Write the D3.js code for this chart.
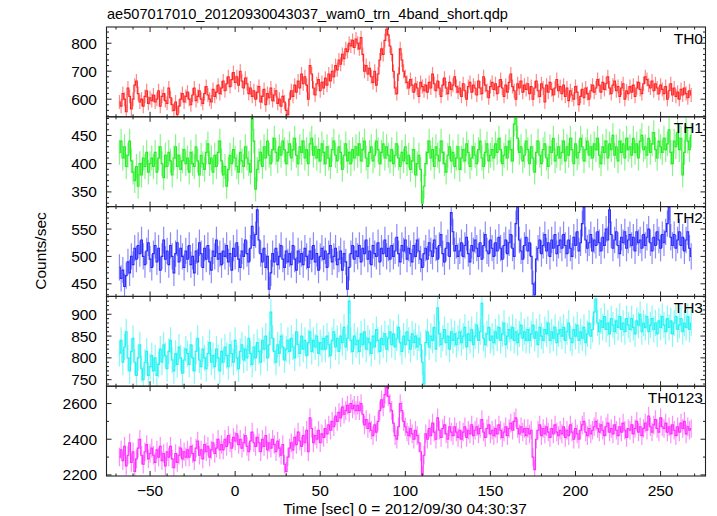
<!DOCTYPE html>
<html><head><meta charset="utf-8">
<script src="https://cdn.jsdelivr.net/npm/d3@7"></script>
<style>
body{margin:0;background:#fff}
svg{display:block}
text{font-family:"Liberation Sans",Arial,Helvetica,sans-serif;fill:#000}
</style>
</head><body>
<svg id="chart" width="717" height="516"></svg>
<script>
const title = "ae507017010_20120930043037_wam0_trn_4band_short.qdp";
const xLabel = "Time [sec] 0 = 2012/09/30 04:30:37";
const yLabel = "Counts/sec";
const bandNames = ["TH0", "TH1", "TH2", "TH3", "TH0123"];
const bandColors = ["#ff2626", "#22ee22", "#2b2bff", "#22f2f2", "#ff2eff"];
const binStart = -68, binWidth = 1;

const th0 = [
590,575,620,600,555,640,610,565,600,650,665,620,590,600,575,610,630,585,605,595,
615,590,600,630,575,610,620,595,585,640,605,580,560,590,545,575,600,620,590,610,
625,600,580,615,640,595,610,630,600,585,620,645,615,600,590,635,610,625,650,620,
640,665,630,655,680,645,670,695,660,680,650,700,665,640,675,655,620,640,610,630,
600,625,645,590,610,635,580,620,605,640,595,615,630,585,600,575,610,590,560,545,
600,630,610,650,625,665,640,690,655,680,650,600,720,690,640,615,655,670,630,660,
640,675,650,690,665,700,680,720,705,740,725,760,745,780,770,800,790,810,785,815,
800,780,820,760,700,720,690,710,680,660,700,650,690,740,780,760,810,850,830,790,
760,700,640,620,690,780,740,700,680,660,640,670,650,625,655,640,610,660,645,630,
650,625,660,640,690,655,630,665,640,610,650,675,640,620,660,635,650,680,645,625,
640,610,655,630,600,645,660,625,650,640,615,665,640,620,680,650,630,605,645,660,
635,655,620,645,670,640,610,650,625,660,690,645,630,600,655,640,665,625,650,635,
655,620,645,600,640,665,630,610,655,640,590,650,625,660,635,615,640,670,630,645,
620,650,610,640,595,630,615,600,645,625,580,610,635,605,640,620,600,630,650,625,
640,670,650,625,660,635,655,680,640,620,650,665,630,645,610,640,655,600,630,620,
645,625,650,610,640,660,635,620,655,680,670,650,640,665,630,655,640,620,650,635,
620,645,600,630,655,615,640,610,625,600,635,615,640,620,605,630,615];

const th1 = [
420,440,410,430,395,415,440,405,385,370,395,360,400,380,410,395,420,385,400,410,
395,420,385,410,430,400,375,415,395,420,405,380,410,430,395,415,390,405,425,400,
410,385,420,400,395,430,405,380,415,400,390,420,435,400,410,385,415,395,420,440,
405,380,395,360,390,415,400,425,410,395,385,420,405,395,430,410,400,385,480,440,
355,390,405,420,395,430,410,440,415,400,425,445,420,405,430,415,440,425,400,420,
435,410,425,445,415,400,430,420,440,410,425,400,435,445,415,430,410,425,405,435,
420,400,430,410,395,425,440,415,405,430,420,390,415,435,405,420,400,425,410,430,
415,435,405,425,440,410,395,420,430,405,415,440,425,400,420,435,410,430,415,405,
425,400,415,435,410,395,420,405,430,400,415,390,405,425,380,400,415,390,330,360,
400,420,440,410,425,395,430,415,405,440,420,400,385,415,430,405,420,395,410,430,
390,410,425,405,435,420,395,410,430,415,400,425,440,410,395,420,435,405,415,425,
410,435,420,445,425,400,415,430,410,440,425,405,470,480,445,420,430,405,415,440,
425,400,430,410,385,420,440,415,400,425,435,410,395,430,420,445,405,415,430,410,
420,440,405,430,415,445,425,400,435,410,420,445,430,405,425,440,415,430,410,435,
425,445,415,400,430,420,440,410,435,425,450,415,430,405,440,420,435,410,445,425,
430,415,445,420,435,410,440,450,425,430,415,445,420,435,455,425,410,440,430,420,
445,425,435,460,420,400,440,430,455,425,445,380,420,465,440,425,450];

const th2 = [
480,460,475,445,465,490,470,500,485,515,495,520,505,530,500,485,510,525,495,480,
505,520,490,515,475,500,530,495,510,485,520,500,470,505,525,490,515,500,480,510,
495,520,485,500,470,510,490,525,505,480,515,495,520,490,475,510,500,530,495,505,
485,510,500,520,490,505,475,515,500,525,495,480,510,500,530,505,490,515,555,520,
540,585,530,505,490,515,480,500,440,470,505,490,515,485,500,520,495,480,510,490,
505,485,520,495,475,510,490,505,485,515,500,480,510,495,520,490,505,475,500,515,
495,510,480,505,520,490,500,515,485,495,510,475,505,490,440,480,505,520,495,510,
500,520,490,515,505,530,495,510,485,520,505,500,525,490,515,505,530,500,515,495,
520,500,510,535,505,490,520,510,530,495,515,505,490,520,500,530,510,495,480,505,
515,495,525,510,500,530,515,495,520,540,505,490,515,525,500,580,545,510,520,500,
510,525,500,520,535,505,490,520,510,530,515,500,525,495,520,540,510,505,530,515,
500,525,510,535,515,495,520,530,505,525,540,515,500,560,590,530,510,495,520,535,
510,525,500,450,430,495,515,530,505,520,540,510,525,500,530,515,540,505,520,530,
515,540,520,505,530,515,500,535,520,545,510,525,560,590,530,515,525,540,510,530,
520,545,525,510,535,520,550,530,585,540,515,530,545,520,505,535,525,545,515,530,
540,520,535,510,545,525,530,515,540,520,535,550,525,510,535,520,545,530,515,540,
525,545,560,590,535,520,540,515,530,545,520,535,510,530,545,515,500];

const th3 = [
810,840,790,825,860,800,770,815,845,790,760,800,830,775,750,790,815,760,780,805,
770,800,760,785,820,790,830,805,775,815,840,795,770,810,785,825,800,765,795,820,
810,785,830,800,770,815,845,795,780,820,800,775,810,835,790,805,780,820,800,770,
815,790,825,805,780,830,810,790,840,800,775,815,830,795,820,800,845,810,785,825,
800,835,815,790,840,820,850,800,830,905,845,815,790,830,810,850,825,795,820,840,
815,845,825,800,860,830,810,850,820,840,805,835,860,815,840,825,850,810,835,820,
845,820,850,830,805,840,860,825,845,815,850,835,870,825,845,930,840,815,850,830,
840,815,855,830,860,820,845,835,810,850,825,865,840,815,845,830,855,820,845,860,
830,855,825,845,870,835,815,850,830,860,840,820,855,835,850,825,845,830,790,740,
835,860,825,850,840,870,820,915,855,830,845,865,835,850,820,860,840,855,830,845,
860,835,850,870,825,855,840,865,830,850,875,840,860,925,845,830,855,870,840,850,
835,860,845,870,840,855,880,830,850,865,845,870,840,860,835,855,875,845,860,840,
865,840,855,875,845,860,830,870,850,840,865,855,880,840,860,845,870,835,855,865,
850,870,840,860,880,845,835,865,850,875,840,860,845,870,835,855,880,850,865,905,
935,880,860,885,870,895,865,880,855,890,875,860,885,870,895,865,880,860,890,875,
865,890,870,855,885,875,900,860,880,870,895,860,875,890,865,880,855,885,870,895,
875,860,890,870,885,855,880,895,865,875,890,860,880,870,895,865,880];

const th0123 = [
2300,2340,2280,2360,2250,2310,2380,2270,2330,2220,2290,2350,2400,2310,2260,2330,2370,2290,2320,2350,
2310,2270,2340,2300,2360,2280,2320,2250,2330,2300,2360,2290,2240,2320,2270,2310,2350,2290,2330,2300,
2340,2300,2360,2320,2280,2350,2390,2310,2340,2290,2370,2330,2360,2300,2340,2380,2320,2350,2400,2340,
2370,2340,2400,2360,2420,2380,2350,2410,2390,2430,2370,2400,2350,2380,2420,2360,2330,2390,2440,2380,
2360,2410,2380,2330,2400,2360,2420,2340,2380,2350,2400,2370,2330,2390,2350,2310,2370,2260,2220,2300,
2350,2380,2340,2410,2370,2440,2390,2360,2420,2380,2450,2330,2520,2460,2380,2420,2400,2450,2380,2430,
2410,2460,2430,2480,2450,2500,2470,2530,2500,2550,2520,2580,2540,2560,2590,2550,2600,2570,2590,2560,
2590,2560,2600,2540,2480,2510,2460,2490,2450,2420,2480,2440,2500,2560,2620,2580,2650,2690,2640,2600,
2560,2490,2420,2400,2470,2600,2560,2500,2470,2440,2420,2460,2430,2400,2450,2420,2380,2330,2200,2310,
2430,2400,2460,2420,2490,2440,2400,2520,2450,2410,2460,2480,2430,2400,2470,2440,2420,2470,2440,2410,
2450,2400,2440,2470,2410,2450,2430,2480,2420,2450,2470,2430,2460,2510,2440,2410,2460,2480,2430,2450,
2420,2460,2430,2480,2450,2410,2440,2470,2420,2460,2490,2450,2500,2520,2460,2430,2470,2440,2460,2420,
2460,2430,2450,2300,2230,2400,2450,2480,2420,2460,2430,2470,2440,2410,2460,2430,2480,2440,2420,2450,
2430,2470,2410,2450,2420,2480,2440,2400,2460,2430,2400,2450,2480,2500,2440,2420,2460,2430,2450,2470,
2500,2460,2440,2480,2450,2420,2470,2490,2440,2460,2430,2480,2450,2420,2470,2440,2490,2450,2410,2460,
2450,2480,2430,2460,2500,2440,2470,2420,2460,2490,2450,2530,2470,2440,2480,2510,2460,2440,2520,2470,
2460,2490,2440,2470,2430,2480,2450,2420,2470,2440,2490,2460,2500,2430,2470,2450,2460];

const seriesValues = [th0, th1, th2, th3, th0123];
const errHalf = [25, 22, 24, 30, 52];
const yDomains = [[537, 858], [324, 483], [427, 591], [735, 941], [2194, 2697]];
const yMajorTicks = [[600, 700, 800], [350, 400, 450], [450, 500, 550], [750, 800, 850, 900], [2200, 2400, 2600]];
const yMinorSteps = [20, 10, 10, 10, 100];
const xDomain = [-75.6, 276.4];
const xMajorTicks = [-50, 0, 50, 100, 150, 200, 250];
const xMinorStep = 10;

const svg = d3.select("#chart");
const plotL = 106.5, plotR = 705.5, plotT = 27, plotB = 476;
const nP = seriesValues.length;
const ph = (plotB - plotT) / nP;
const x = d3.scaleLinear().domain(xDomain).range([plotL, plotR]);

svg.append("text").attr("x", 107).attr("y", 19).attr("font-size", 14.6).text(title);

const xMinor = d3.range(-70, 276, xMinorStep).filter(v => !xMajorTicks.includes(v));

seriesValues.forEach((vals, p) => {
  const y0 = plotT + p * ph, y1 = y0 + ph;
  const y = d3.scaleLinear().domain(yDomains[p]).range([y1, y0]);
  const g = svg.append("g");
  const clipId = "clip" + p;
  svg.append("clipPath").attr("id", clipId).append("rect")
    .attr("x", plotL).attr("y", y0).attr("width", plotR - plotL).attr("height", ph);
  const data = vals.map((v, i) => ({t: binStart + i * binWidth, v}));
  const dg = g.append("g").attr("clip-path", `url(#${clipId})`);
  const col = bandColors[p];
  const e = errHalf[p];
  dg.selectAll("line.err").data(data).join("line")
    .attr("x1", d => x(d.t)).attr("x2", d => x(d.t))
    .attr("y1", d => y(d.v - e)).attr("y2", d => y(d.v + e))
    .attr("stroke", col).attr("stroke-opacity", 0.55).attr("stroke-width", 1.2);
  const line = d3.line().x(d => x(d.t)).y(d => y(d.v)).curve(d3.curveStep);
  dg.append("path").datum(data).attr("d", line)
    .attr("fill", "none").attr("stroke", col).attr("stroke-width", 1.15);

  g.append("rect").attr("x", plotL).attr("y", y0).attr("width", plotR - plotL).attr("height", ph)
    .attr("fill", "none").attr("stroke", "#222").attr("stroke-width", 1.1);
  const tk = g.append("g").attr("stroke", "#222").attr("stroke-width", 1);
  xMajorTicks.forEach(v => {
    tk.append("line").attr("x1", x(v)).attr("x2", x(v)).attr("y1", y0).attr("y2", y0 + 5);
    tk.append("line").attr("x1", x(v)).attr("x2", x(v)).attr("y1", y1).attr("y2", y1 - 5);
  });
  xMinor.forEach(v => {
    tk.append("line").attr("x1", x(v)).attr("x2", x(v)).attr("y1", y0).attr("y2", y0 + 2.5);
    tk.append("line").attr("x1", x(v)).attr("x2", x(v)).attr("y1", y1).attr("y2", y1 - 2.5);
  });
  const st = yMinorSteps[p], dom = yDomains[p];
  const yMinor = d3.range(Math.ceil(dom[0] / st) * st, dom[1], st).filter(v => !yMajorTicks[p].includes(v));
  yMajorTicks[p].forEach(v => {
    tk.append("line").attr("x1", plotL).attr("x2", plotL + 5).attr("y1", y(v)).attr("y2", y(v));
    tk.append("line").attr("x1", plotR).attr("x2", plotR - 5).attr("y1", y(v)).attr("y2", y(v));
  });
  yMinor.forEach(v => {
    tk.append("line").attr("x1", plotL).attr("x2", plotL + 2.5).attr("y1", y(v)).attr("y2", y(v));
    tk.append("line").attr("x1", plotR).attr("x2", plotR - 2.5).attr("y1", y(v)).attr("y2", y(v));
  });
  g.selectAll("text.yt").data(yMajorTicks[p]).join("text")
    .attr("x", 97).attr("y", v => y(v) + 5.5).attr("text-anchor", "end")
    .attr("font-size", 15.5).text(v => v);
  g.append("text").attr("x", 703).attr("y", y0 + 16.5).attr("text-anchor", "end")
    .attr("font-size", 15.5).text(bandNames[p]);
});

svg.selectAll("text.xt").data(xMajorTicks).join("text")
  .attr("x", v => x(v)).attr("y", 496).attr("text-anchor", "middle")
  .attr("font-size", 15.5).text(v => v < 0 ? "\u2212" + Math.abs(v) : v);
svg.append("text").attr("x", 405).attr("y", 514).attr("text-anchor", "middle")
  .attr("font-size", 15.5).text(xLabel);
svg.append("text").attr("transform", "translate(46,251) rotate(-90)")
  .attr("text-anchor", "middle").attr("font-size", 15.5).text(yLabel);
</script>
</body></html>
